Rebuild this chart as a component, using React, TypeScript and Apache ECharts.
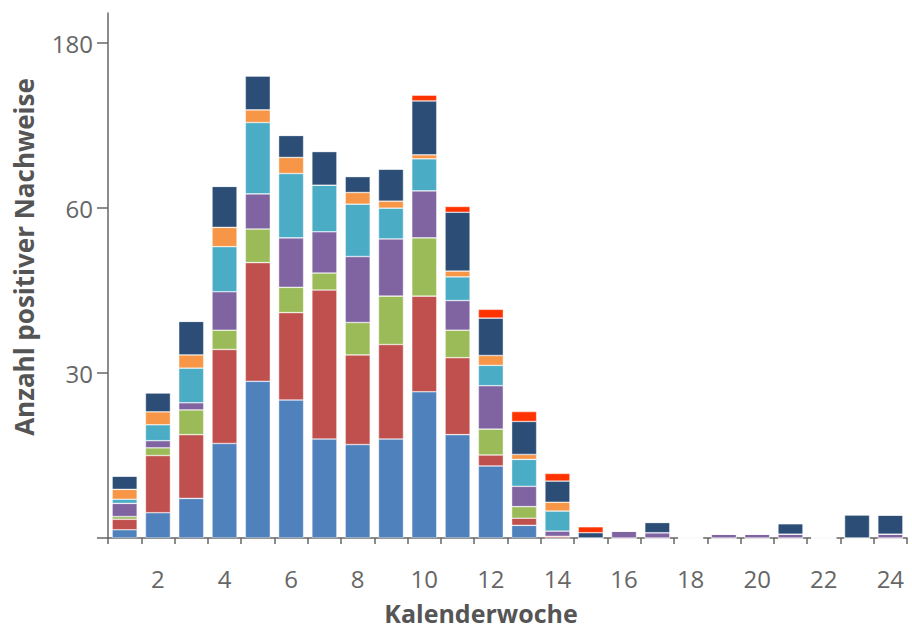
import React, { useEffect, useRef } from "react";
import * as echarts from "echarts";

const weeks = ["1","2","3","4","5","6","7","8","9","10","11","12","13","14","15","16","17","18","19","20","21","22","23","24"];

// segment values per week (bottom to top)
const serBlue   = [1.5, 4.6, 7.2, 17.2, 28.5, 25.1, 18.0, 17.0, 18.0, 26.6, 18.8, 13.1, 2.3, 0, 0, 0, 0, 0, 0, 0, 0, 0, 0, 0];
const serRed    = [1.9, 10.4, 11.6, 17.1, 21.6, 15.9, 27.1, 16.3, 17.2, 17.4, 14.0, 2.0, 1.3, 0.3, 0, 0, 0, 0, 0, 0, 0, 0, 0, 0];
const serGreen  = [0.5, 1.4, 4.5, 3.5, 6.1, 4.6, 3.1, 5.9, 8.8, 10.6, 5.0, 4.7, 2.1, 0, 0, 0, 0, 0, 0, 0, 0, 0, 0, 0];
const serPurple = [2.4, 1.3, 1.3, 7.0, 14.2, 9.0, 7.5, 12.0, 10.4, 18.0, 5.4, 7.9, 3.7, 0.95, 0, 1.26, 0.96, 0, 0.7, 0.7, 0.7, 0, 0, 0.7];
const serCyan   = [0.75, 2.9, 6.3, 8.2, 51.9, 30.6, 21.0, 11.7, 5.6, 23.3, 4.3, 3.7, 4.9, 3.65, 0, 0, 0, 0, 0, 0, 0, 0, 0, 0];
const serOrange = [1.8, 2.35, 2.4, 3.5, 9.2, 11.7, 0, 8.5, 5.1, 2.9, 1.05, 1.8, 0.9, 1.6, 0, 0, 0, 0, 0, 0, 0, 0, 0, 0];
const serNavy   = [2.4, 3.45, 6.1, 19.35, 24.7, 16.0, 24.5, 11.6, 23.3, 39.2, 10.7, 6.8, 6.0, 3.85, 0.96, 0, 1.86, 0, 0, 0, 1.9, 0, 4.2, 3.45];
const serTop    = [0, 0, 0, 0, 0, 0, 0, 0, 0, 4.2, 2.0, 1.6, 1.8, 1.4, 1.08, 0, 0, 0, 0, 0, 0, 0, 0, 0];

const allSeries = [serBlue, serRed, serGreen, serPurple, serCyan, serOrange, serNavy, serTop];
const colors = ["#4f81bd", "#c0504d", "#9bbb59", "#8064a2", "#4bacc6", "#f79646", "#2c4d75", "#ff3300"];

const yTickValues = [0, 30, 60, 180];

// axis scale: linear up to 60, compressed 4x above 60
const toDisp = (v: number) => (v <= 60 ? v : 60 + (v - 60) / 4);
const fromDisp = (d: number) => (d <= 60 ? d : 60 + (d - 60) * 4);

export default function App() {
  const ref = useRef<HTMLDivElement>(null);
  useEffect(() => {
    if (!ref.current) return;
    const chart = echarts.init(ref.current, undefined, { renderer: "svg" });
    const cum = weeks.map(() => 0);
    const series = allSeries.map((arr, si) => {
      const data = arr.map((v, i) => {
        const before = toDisp(cum[i]);
        cum[i] += v;
        const after = toDisp(cum[i]);
        return after - before;
      });
      return {
        type: "bar" as const,
        stack: "total",
        barWidth: 25,
        data,
        itemStyle: { color: colors[si], borderColor: "rgba(255,255,255,0.7)", borderWidth: 0.6 },
        emphasis: { disabled: true },
      };
    });
    const dispTicks = yTickValues.map(toDisp);
    chart.setOption({
      animation: false,
      grid: { left: 108, right: 5, top: 13, bottom: 92 },
      xAxis: {
        type: "category",
        data: weeks,
        axisLine: { lineStyle: { color: "#666", width: 1.5 } },
        axisTick: { show: true, interval: 0, length: 6, lineStyle: { color: "#666", width: 1.5 } },
        axisLabel: {
          interval: (idx: number) => idx % 2 === 1,
          color: "#666",
          fontFamily: "Open Sans",
          fontSize: 24,
          margin: 28,
        },
      },
      yAxis: {
        type: "value",
        min: 0,
        max: 95.5,
        splitLine: { show: false },
        axisLine: { show: true, lineStyle: { color: "#666", width: 1.5 } },
        axisTick: { show: true, length: 11, customValues: dispTicks, lineStyle: { color: "#666", width: 1.5 } },
        axisLabel: {
          customValues: dispTicks.slice(1),
          formatter: (d: number) => String(Math.round(fromDisp(d))),
          color: "#666",
          fontFamily: "Open Sans",
          fontSize: 24,
          margin: 15,
        },
      },
      graphic: [
        {
          type: "text",
          x: 481,
          y: 613,
          style: {
            text: "Kalenderwoche",
            fill: "#555",
            font: "bold 25px 'Open Sans'",
            lineHeight: 22,
            align: "center",
            verticalAlign: "middle",
          },
        },
        {
          type: "text",
          x: 24,
          y: 257,
          rotation: Math.PI / 2,
          style: {
            text: "Anzahl positiver Nachweise",
            fill: "#555",
            font: "bold 26px 'Open Sans'",
            align: "center",
            verticalAlign: "middle",
          },
        },
      ],
      series,
    });
    return () => chart.dispose();
  }, []);
  return <div ref={ref} style={{ position: "absolute", left: 0, top: 0, width: 912, height: 630 }} />;
}
